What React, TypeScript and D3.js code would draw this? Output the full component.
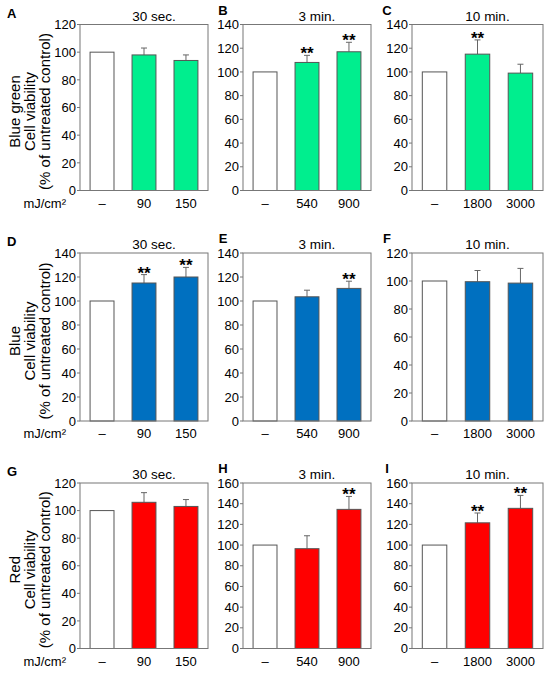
import React from 'react';
import * as d3 from 'd3';

// rows = light colour, columns = exposure time
const lightNames = ['Blue green', 'Blue', 'Red'];
const barColors = ['#00EE8E', '#0070C0', '#FF0000'];
const durations = ['30 sec.', '3 min.', '10 min.'];
const doseLabels = [
  ['–', '90', '150'],
  ['–', '540', '900'],
  ['–', '1800', '3000'],
];
const panelLetters = [
  ['A', 'B', 'C'],
  ['D', 'E', 'F'],
  ['G', 'H', 'I'],
];
const yMaxes = [
  [120, 140, 140],
  [140, 140, 120],
  [120, 160, 160],
];

const blueGreenMeans = [[100, 98, 94], [100, 108, 117], [100, 115, 99]];
const blueGreenErrors = [[0, 5, 4], [0, 6, 8], [0, 12, 7.5]];
const blueGreenSig = [[false, false, false], [false, true, true], [false, true, false]];

const blueMeans = [[100, 115, 120], [100, 103.5, 110.5], [100, 99.5, 98.5]];
const blueErrors = [[0, 7, 8], [0, 5.5, 6], [0, 8, 10.5]];
const blueSig = [[false, true, true], [false, false, true], [false, false, false]];

const redMeans = [[100, 106, 103], [100, 96.5, 134.5], [100, 121.5, 135.5]];
const redErrors = [[0, 7, 5], [0, 12.5, 12.5], [0, 9.5, 12.5]];
const redSig = [[false, false, false], [false, false, true], [false, true, true]];

const allMeans = [blueGreenMeans, blueMeans, redMeans];
const allErrors = [blueGreenErrors, blueErrors, redErrors];
const allSig = [blueGreenSig, blueSig, redSig];

// layout
const W = 550, H = 674;
const colLeft = [80, 243, 412];
const colWidth = [128, 128, 131];
const letterX = [7, 223, 387];
const rowTop = [24.5, 253, 483];
const rowHeight = [166, 168, 165.5];
const font = '"Liberation Sans", Arial, sans-serif';

const Panel = ({ r, c }: { r: number; c: number }) => {
  const x0 = colLeft[c], y0 = rowTop[r];
  const w = colWidth[c], h = rowHeight[r];
  const yMax = yMaxes[r][c];
  const means = allMeans[r][c];
  const errs = allErrors[r][c];
  const sig = allSig[r][c];
  const labels = doseLabels[c];

  const x = d3.scaleBand<string>()
    .domain(labels)
    .range([x0, x0 + w])
    .paddingInner(0.43)
    .paddingOuter(0.24);
  const y = d3.scaleLinear().domain([0, yMax]).range([y0 + h, y0]);

  return (
    <g>
      {y.ticks(yMax / 20).map(t => (
        <g key={t}>
          <line x1={x0 - 3} x2={x0} y1={y(t)} y2={y(t)} stroke="#777" />
          <text x={x0 - 4} y={y(t)} dy="0.36em" textAnchor="end" fontSize={13}>{t}</text>
        </g>
      ))}
      {means.map((m, i) => {
        const bx = x(labels[i])!;
        const bw = x.bandwidth();
        const cx = bx + bw / 2;
        const top = y(m + errs[i]);
        return (
          <g key={i}>
            {errs[i] > 0 && (
              <g stroke="#666" strokeWidth={1}>
                <line x1={cx} x2={cx} y1={y(m)} y2={top} />
                <line x1={cx - 3} x2={cx + 3} y1={top} y2={top} />
              </g>
            )}
            <rect x={bx} y={y(m)} width={bw} height={y(0) - y(m)}
              fill={i === 0 ? '#fff' : barColors[r]} stroke="#555" strokeWidth={1} />
            {sig[i] && (
              <text x={cx} y={top + 4} textAnchor="middle" fontSize={17} fontWeight="bold">**</text>
            )}
          </g>
        );
      })}
      <rect x={x0} y={y0} width={w} height={h} fill="none" stroke="#777" strokeWidth={1} />
      {labels.map(l => (
        <text key={l} x={x(l)! + x.bandwidth() / 2} y={y0 + h + 17} textAnchor="middle" fontSize={13}>{l}</text>
      ))}
      <text x={x0 + w / 2 + 10} y={y0 - 4} textAnchor="middle" fontSize={13.5}>{durations[c]}</text>
      <text x={letterX[c]} y={y0 - (c === 0 ? 7 : 10)} fontSize={13} fontWeight="bold"
        textAnchor={c === 0 ? 'start' : 'middle'}>{panelLetters[r][c]}</text>
      {c === 0 && (
        <>
          <g transform={`translate(35,${y0 + h / 2 + 4}) rotate(-90)`}>
            <text x={0} y={-15} textAnchor="middle" fontSize={15}>{lightNames[r]}</text>
            <text x={0} y={0} textAnchor="middle" fontSize={15}>Cell viability</text>
            <text x={0} y={15} textAnchor="middle" fontSize={15}>(% of untreated control)</text>
          </g>
          <text x={x0 - 14} y={y0 + h + 17} textAnchor="end" fontSize={13}>mJ/cm²</text>
        </>
      )}
    </g>
  );
};

export default function App() {
  return (
    <svg width={W} height={H} style={{ position: 'absolute', left: 0, top: 0, background: '#fff' }}
      fontFamily={font} fill="#000">
      {[0, 1, 2].map(r => [0, 1, 2].map(c => <Panel key={`${r}-${c}`} r={r} c={c} />))}
    </svg>
  );
}
